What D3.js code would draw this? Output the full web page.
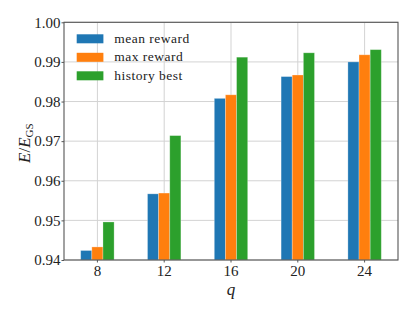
<!DOCTYPE html>
<html>
<head>
<meta charset="utf-8">
<script src="https://cdn.jsdelivr.net/npm/d3@7"></script>
<style>
  body { margin: 0; background: #fff; }
  text { font-family: "Liberation Serif", "DejaVu Serif", serif; fill: #222; }
</style>
</head>
<body>
<svg id="chart" width="415" height="312"></svg>
<script>
var qs = ["8", "12", "16", "20", "24"];
var series = ["mean reward", "max reward", "history best"];
var meanReward = [0.9424, 0.9567, 0.9808, 0.9863, 0.9900];
var maxReward = [0.9433, 0.9569, 0.9817, 0.9867, 0.9918];
var historyBest = [0.9496, 0.9714, 0.9912, 0.9923, 0.9931];
var yTicks = [0.94, 0.95, 0.96, 0.97, 0.98, 0.99, 1.00];
var colors = ["#1f77b4", "#ff7f0e", "#2ca02c"];

var values = [meanReward, maxReward, historyBest];
var margin = {left: 64, top: 22.3, right: 17, bottom: 52};
var width = 415 - margin.left - margin.right,
    height = 312 - margin.top - margin.bottom;

var svg = d3.select("#chart");
var g = svg.append("g").attr("transform", "translate(" + margin.left + "," + margin.top + ")");

var x = d3.scaleBand().domain(qs).range([0, width]).padding(0); // one band per q
var y = d3.scaleLinear().domain([0.94, 1.00]).range([height, 0]);
var barW = x.bandwidth() / 6; // three bars fill half the band

// grid
g.selectAll(".hgrid").data(yTicks).enter().append("line")
    .attr("x1", 0).attr("x2", width)
    .attr("y1", function (d) { return y(d); }).attr("y2", function (d) { return y(d); })
    .attr("stroke", "#d3d3d3").attr("stroke-width", 1);
g.selectAll(".vgrid").data(qs).enter().append("line")
    .attr("x1", function (d) { return x(d) + x.bandwidth() / 2; })
    .attr("x2", function (d) { return x(d) + x.bandwidth() / 2; })
    .attr("y1", 0).attr("y2", height)
    .attr("stroke", "#d3d3d3").attr("stroke-width", 1);

// bars
series.forEach(function (s, k) {
    g.selectAll(".bar" + k).data(values[k]).enter().append("rect")
        .attr("x", function (d, i) { return x(qs[i]) + x.bandwidth() / 2 + (k - 1.5) * barW; })
        .attr("y", function (d) { return y(d); })
        .attr("width", barW)
        .attr("height", function (d) { return height - y(d); })
        .attr("fill", colors[k])
        .attr("stroke", "#ffffff").attr("stroke-opacity", 0.35).attr("stroke-width", 0.8);
});

// axes
var yAxis = g.append("g").call(d3.axisLeft(y).tickValues(yTicks).tickSize(2.5).tickPadding(1)
    .tickFormat(d3.format(".2f")));
var xAxis = g.append("g").attr("transform", "translate(0," + height + ")")
    .call(d3.axisBottom(x).tickSize(2.5).tickPadding(3));
[yAxis, xAxis].forEach(function (a) {
    a.select(".domain").remove();
    a.selectAll("line").attr("stroke", "#555");
    a.selectAll("text").style("font-size", "15px").attr("fill", "#222");
});

// frame
g.append("rect").attr("width", width).attr("height", height)
    .attr("fill", "none").attr("stroke", "#555").attr("stroke-width", 1.1);

// axis labels
g.append("text").attr("x", width / 2).attr("y", height + 35)
    .attr("text-anchor", "middle").style("font-size", "17px").style("font-style", "italic").text("q");
var yl = g.append("text").attr("transform", "translate(-34," + (height / 2 + 2) + ") rotate(-90)")
    .attr("text-anchor", "middle").style("font-size", "17px");
yl.append("tspan").style("font-style", "italic").text("E");
yl.append("tspan").text("/");
yl.append("tspan").style("font-style", "italic").text("E");
yl.append("tspan").attr("dy", 3).style("font-size", "11px").text("GS");

// legend
var leg = g.append("g").attr("transform", "translate(12.7,12)");
series.forEach(function (s, k) {
    var row = leg.append("g").attr("transform", "translate(0," + k * 18.5 + ")");
    row.append("rect").attr("width", 26.7).attr("height", 9).attr("fill", colors[k]);
    row.append("text").attr("x", 37.5).attr("y", 8.5).style("font-size", "13.5px")
        .style("letter-spacing", "0.5px").text(s);
});
</script>
</body>
</html>
